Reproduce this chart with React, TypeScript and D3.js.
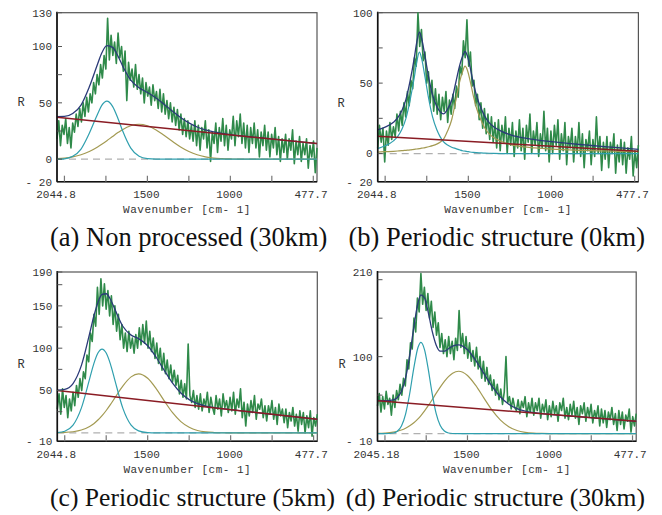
import React from "react";
import * as d3 from "d3";

// ---------------- DATA ----------------
const WN_END = 477.7;
const WN_START_A = 2044.8;
const WN_START_B = 2044.8;
const WN_START_C = 2044.8;
const WN_START_D = 2045.18;

// measured spectra (R), evenly sampled from start wavenumber to 477.7
const noisyA = [
  18, 34, 12, 30, 22, 36, 14, 28, 10, 32,
  24, 40, 29, 45, 33, 50, 38, 55, 42, 58,
  50, 68, 58, 75, 66, 84, 72, 92, 80, 125,
  88, 110, 92, 104, 85, 112, 90, 100, 78, 96,
  52, 86, 70, 80, 64, 84, 62, 75, 58, 72,
  50, 68, 56, 64, 48, 66, 52, 60, 45, 62,
  42, 58, 40, 52, 36, 50, 33, 46, 30, 44,
  26, 40, 22, 36, 20, 34, 18, 30, 16, 34,
  12, 30, 8, 28, 18, 34, 10, 26, -2, 24,
  14, 32, 6, 28, 16, 36, 12, 30, 8, 26,
  18, 38, 12, 34, 20, 40, 14, 32, 10, 30,
  6, 28, 14, 32, 10, 26, 2, 24, 12, 30,
  8, 24, 2, 22, 10, 28, 4, 20, -2, 18,
  6, 22, 0, 18, 8, 26, -4, 16, 4, 20,
  -2, 14, 4, 18, -8, 12, 2, 16, -12, 10,
];
const noisyB = [
  4, 20, 8, 18, -6, 16, 6, 22, 10, 19,
  12, 28, 16, 30, 20, 36, 26, 44, 34, 52,
  46, 68, 62, 100, 76, 88, 66, 72, 50, 58,
  36, 52, 30, 46, 28, 42, 24, 40, 30, 44,
  22, 38, 28, 42, 32, 48, 40, 62, 56, 80,
  68, 95, 62, 72, 48, 52, 34, 42, 24, 36,
  18, 32, 14, 28, 10, 26, 8, 22, 4, 24,
  2, 20, 8, 26, 0, 18, 6, 22, -2, 16,
  4, 24, 2, 18, -4, 20, 8, 28, 0, 16,
  6, 22, -2, 14, 4, 30, 2, 18, -6, 16,
  0, 20, 6, 24, -4, 14, 2, 22, -8, 12,
  4, 18, -6, 12, 0, 22, -2, 14, -10, 10,
  2, 16, -8, 10, -2, 26, 0, 12, -12, 8,
  -4, 12, -10, 8, 0, 14, -14, 6, -6, 10,
  -8, 8, -14, 4, -4, 12, -16, 2, -10, 6,
];
const noisyC = [
  28, 46, 22, 52, 30, 44, 18, 40, 26, 48,
  32, 56, 42, 64, 50, 72, 64, 92, 84, 118,
  108, 140, 126, 172, 140, 182, 150, 176, 146, 168,
  138, 162, 128, 150, 120, 140, 110, 128, 100, 118,
  96, 120, 100, 112, 94, 116, 100, 124, 104, 128,
  106, 132, 100, 120, 96, 112, 88, 106, 82, 100,
  74, 94, 70, 86, 64, 80, 60, 74, 56, 68,
  46, 62, 42, 58, 40, 105, 44, 36, 50, 30,
  44, 28, 46, 26, 40, 32, 48, 24, 42, 30,
  22, 44, 28, 40, 20, 46, 30, 38, 24, 42,
  26, 48, 22, 40, 30, 52, 18, 36, 8, 34,
  20, 38, 24, 44, 16, 34, 28, 40, 18, 32,
  14, 32, 22, 38, 16, 30, 10, 34, 20, 28,
  12, 28, 6, 24, 14, 30, 8, 22, 2, 26,
  10, 24, 0, 20, 6, 26, -4, 18, 8, 22,
];
const noisyD = [
  36, 52, 28, 48, 32, 55, 38, 46, 24, 50,
  34, 56, 44, 64, 50, 72, 62, 96, 84, 118,
  110, 150, 132, 176, 158, 208, 168, 190, 160, 182,
  150, 172, 138, 158, 128, 144, 112, 130, 104, 122,
  100, 126, 104, 120, 96, 124, 108, 160, 112, 130,
  104, 126, 98, 118, 94, 108, 88, 112, 84, 100,
  72, 94, 68, 86, 64, 76, 56, 70, 50, 64,
  44, 58, 38, 54, 100, 40, 48, 32, 46, 34,
  30, 44, 26, 42, 34, 48, 22, 40, 28, 46,
  24, 40, 30, 46, 20, 38, 28, 44, 18, 36,
  22, 42, 26, 36, 16, 40, 30, 46, 20, 34,
  18, 38, 24, 42, 20, 34, 12, 36, 26, 40,
  16, 34, 22, 38, 14, 30, 20, 36, 10, 32,
  14, 30, 8, 28, 18, 34, 12, 26, 4, 30,
  12, 28, 6, 24, 16, 32, 2, 22, 10, 26,
];

// fitted components sampled at wavenumbers
const gridA = [2044.8, 2000, 1950, 1900, 1850, 1800, 1775, 1744, 1710, 1675, 1650, 1600, 1550, 1500, 1450, 1400, 1350, 1300, 1250, 1200, 1150, 1100, 1050, 1000, 950, 900, 477.7];
const tealA = [0.04, 0.3, 2.5, 9, 23, 40.1, 47.7, 51.5, 46.9, 35.2, 25.4, 9.8, 2.5, 0.4, 0, 0, 0, 0, 0, 0, 0, 0, 0, 0, 0, 0, 0];
const oliveA = [0.5, 1.0, 2.1, 3.9, 6.8, 10.8, 13.2, 16.4, 20.1, 23.8, 26.2, 29.7, 31, 29.7, 26.2, 21.2, 15.8, 10.8, 6.8, 3.9, 2.1, 1.0, 0.5, 0.2, 0, 0, 0];
const baseA = [37.3, 13.8];

const gridB = [2044.8, 2000, 1950, 1925, 1900, 1875, 1850, 1825, 1810, 1794, 1780, 1760, 1740, 1715, 1690, 1670, 1650, 1625, 1600, 1575, 1550, 1535, 1520, 1505, 1490, 1470, 1450, 1425, 1400, 1375, 1350, 1300, 1250, 1200, 1100, 1000, 900, 800, 700, 600, 477.7];
const tealB = [3.5, 5.5, 9, 12, 17, 25, 38, 54, 65, 72, 67, 54, 40, 26, 17, 12, 8.5, 6, 4.5, 3.5, 2.5, 2, 1.7, 1.4, 1.1, 0.8, 0.6, 0.4, 0.3, 0.2, 0.1, 0, 0, 0, 0, 0, 0, 0, 0, 0, 0];
const oliveB = [1, 1.3, 1.6, 1.8, 2, 2.3, 2.6, 3, 3.2, 3.5, 3.8, 4.2, 4.8, 5.6, 6.7, 8, 10, 16, 24, 38, 52, 58, 62, 59, 52, 41, 32, 24, 18, 14, 11.5, 8.5, 6.5, 5.2, 4, 3.2, 2.6, 2.2, 1.9, 1.6, 1.3];
const baseB = [12.3, 1.7];

const gridC = [2044.8, 2000, 1950, 1900, 1850, 1825, 1800, 1775, 1750, 1725, 1700, 1650, 1600, 1555, 1500, 1450, 1400, 1350, 1300, 1250, 1200, 1150, 1100, 1050, 1000, 900, 477.7];
const tealC = [0.3, 1.9, 9.0, 29.2, 63.8, 81.5, 94.3, 99, 94.3, 81.5, 63.8, 29.2, 9.0, 2.3, 0.3, 0, 0, 0, 0, 0, 0, 0, 0, 0, 0, 0, 0];
const oliveC = [0.15, 0.45, 1.3, 3.3, 7.6, 10.8, 15.1, 20.3, 26.4, 33.3, 40.7, 55.3, 66.1, 69.6, 64.4, 52.5, 37.7, 23.8, 13.2, 6.5, 2.8, 1.1, 0.4, 0.1, 0, 0, 0];
const baseC = [50, 16];

const gridD = [2045.18, 2000, 1950, 1925, 1900, 1875, 1850, 1825, 1800, 1782, 1760, 1740, 1715, 1690, 1665, 1640, 1615, 1590, 1554, 1500, 1450, 1400, 1350, 1300, 1250, 1200, 1150, 1100, 1050, 1000, 900, 477.7];
const tealD = [0, 0.02, 0.8, 3.1, 9.9, 25.4, 52.1, 85.4, 111.9, 118.6, 108.8, 86.7, 53.3, 26.3, 10.4, 3.3, 0.8, 0.15, 0, 0, 0, 0, 0, 0, 0, 0, 0, 0, 0, 0, 0, 0];
const oliveD = [0.26, 0.7, 1.9, 3.1, 4.7, 7.0, 10.1, 14.1, 19.2, 23.5, 29.5, 35.6, 43.7, 52.2, 60.4, 67.9, 74.1, 78.5, 81, 75.6, 62.6, 46.1, 30.1, 17.5, 9.0, 4.1, 1.7, 0.6, 0.2, 0, 0, 0];
const baseD = [42.8, 16];

// axes
const yDomainA = [-20, 130];
const yDomainB = [-20, 100];
const yDomainC = [-10, 190];
const yDomainD = [-10, 210];
const yTicksA = [0, 25, 50, 75, 100, 130];
const yTicksB = [0, 25, 50, 75, 100];
const yTicksC = [25, 50, 75, 100, 125, 150, 175, 190];
const yTicksD = [50, 100, 150, 200];
const yLabelsA = [130, 100, 50, 0, -20];
const yLabelsB = [100, 50, 0, -20];
const yLabelsC = [190, 150, 100, 50, -10];
const yLabelsD = [210, 100, -10];
const xTicks = [2000, 1750, 1500, 1250, 1000, 750, 500];
const xLabelsABC = [2044.8, 1500, 1000, 477.7];
const xLabelsD = [2045.18, 1500, 1000, 477.7];

const captionA = "(a) Non processed (30km)";
const captionB = "(b) Periodic structure (0km)";
const captionC = "(c) Periodic structure (5km)";
const captionD = "(d) Periodic structure (30km)";
const xTitle = "Wavenumber [cm- 1]";
const yTitle = "R";

// ---------------- STYLE ----------------
const GREEN = "#2f8a4a";
const NAVY = "#2b3a78";
const TEAL = "#2f9fae";
const OLIVE = "#a39a52";
const BROWN = "#8a1c24";
const MONO = "Liberation Mono";
const SERIF = "Liberation Serif";

type PanelProps = {
  box: { left: number; right: number; top: number; bottom: number };
  xDomain: [number, number];
  yDomain: number[];
  yTicks: number[];
  yLabels: number[];
  xLabels: number[];
  noisy: number[];
  grid: number[];
  teal: number[];
  olive: number[];
  base: number[];
  rPos: [number, number];
};

function fmtY(v: number) {
  return v < 0 ? `- ${Math.abs(v)}` : String(v);
}

function Panel(p: PanelProps) {
  const { box } = p;
  const x = d3.scaleLinear().domain(p.xDomain).range([box.left, box.right]);
  const y = d3.scaleLinear().domain(p.yDomain).range([box.bottom, box.top]);
  const n = p.noisy.length;
  const wnAt = (i: number) => p.xDomain[0] + ((p.xDomain[1] - p.xDomain[0]) * i) / (n - 1);
  const noisyPts: [number, number][] = p.noisy.map((v, i) => [wnAt(i), v]);
  const baseAt = (w: number) =>
    p.base[0] + ((p.base[1] - p.base[0]) * (w - p.xDomain[0])) / (p.xDomain[1] - p.xDomain[0]);
  const tealPts: [number, number][] = p.grid.map((w, i) => [w, p.teal[i]]);
  const olivePts: [number, number][] = p.grid.map((w, i) => [w, p.olive[i]]);
  const fitPts: [number, number][] = p.grid.map((w, i) => [w, baseAt(w) + p.teal[i] + p.olive[i]]);
  const basePts: [number, number][] = [
    [p.xDomain[0], p.base[0]],
    [p.xDomain[1], p.base[1]],
  ];
  const raw = d3.line<[number, number]>().x((d) => x(d[0])).y((d) => y(d[1]));
  const smooth = d3
    .line<[number, number]>()
    .x((d) => x(d[0]))
    .y((d) => y(d[1]))
    .curve(d3.curveMonotoneX);
  const midX = (box.left + box.right) / 2;
  const nL = p.xLabels.length;
  return (
    <g>
      <rect x={box.left} y={box.top} width={box.right - box.left} height={box.bottom - box.top} fill="#fff" stroke="#555" strokeWidth={1.2} />
      <line x1={box.left} x2={box.right} y1={y(0)} y2={y(0)} stroke="#b0b0b0" strokeWidth={1.3} strokeDasharray="7,5" />
      <path d={raw(noisyPts) || ""} fill="none" stroke={GREEN} strokeWidth={1.6} strokeLinejoin="round" />
      <path d={smooth(olivePts) || ""} fill="none" stroke={OLIVE} strokeWidth={1.2} />
      <path d={smooth(tealPts) || ""} fill="none" stroke={TEAL} strokeWidth={1.2} />
      <path d={smooth(fitPts) || ""} fill="none" stroke={NAVY} strokeWidth={1.3} />
      <path d={raw(basePts) || ""} fill="none" stroke={BROWN} strokeWidth={1.5} />
      <line x1={box.left} x2={box.left} y1={box.top - 1} y2={box.bottom} stroke="#111" strokeWidth={1.6} />
      <line x1={box.left} x2={box.right} y1={box.bottom} y2={box.bottom} stroke="#111" strokeWidth={1.6} />
      {p.yTicks.map((t) => (
        <line key={"yt" + t} x1={box.left} x2={box.left + 5} y1={y(t)} y2={y(t)} stroke="#555" strokeWidth={1} />
      ))}
      {xTicks.map((t) => (
        <line key={"xt" + t} x1={x(t)} x2={x(t)} y1={box.bottom} y2={box.bottom - 6} stroke="#777" strokeWidth={1.2} />
      ))}
      {p.yLabels.map((v) => (
        <text key={"yl" + v} x={box.left - 5} y={y(v)} dy="0.36em" textAnchor="end" fontFamily={MONO} fontSize={11} fill="#333">
          {fmtY(v)}
        </text>
      ))}
      {p.xLabels.map((v, i) => (
        <text
          key={"xl" + v}
          x={x(v) + (i === nL - 1 ? -6 : -1)}
          y={box.bottom + 16.5}
          textAnchor="middle"
          fontFamily={MONO}
          fontSize={11}
          fill="#333"
        >
          {String(v)}
        </text>
      ))}
      <text x={midX} y={box.bottom + 31.5} textAnchor="middle" fontFamily={MONO} fontSize={11} letterSpacing={0.5} fill="#333">
        {xTitle}
      </text>
      <text x={p.rPos[0]} y={p.rPos[1]} dy="0.36em" textAnchor="middle" fontFamily={MONO} fontSize={12} fill="#333">
        {yTitle}
      </text>
    </g>
  );
}

export default function App() {
  return (
    <svg
      width={662}
      height={515}
      viewBox="0 0 662 515"
      style={{ position: "absolute", left: 0, top: 0, background: "#fff" }}
    >
      <rect x={0} y={0} width={662} height={515} fill="#fff" />
      <Panel
        box={{ left: 57, right: 317, top: 12.7, bottom: 181.7 }}
        xDomain={[WN_START_A, WN_END]}
        yDomain={yDomainA}
        yTicks={yTicksA}
        yLabels={yLabelsA}
        xLabels={xLabelsABC}
        noisy={noisyA}
        grid={gridA}
        teal={tealA}
        olive={oliveA}
        base={baseA}
        rPos={[21, 102]}
      />
      <Panel
        box={{ left: 377.7, right: 638.4, top: 12.7, bottom: 181.7 }}
        xDomain={[WN_START_B, WN_END]}
        yDomain={yDomainB}
        yTicks={yTicksB}
        yLabels={yLabelsB}
        xLabels={xLabelsABC}
        noisy={noisyB}
        grid={gridB}
        teal={tealB}
        olive={oliveB}
        base={baseB}
        rPos={[341, 103]}
      />
      <Panel
        box={{ left: 57.3, right: 317.3, top: 272, bottom: 441.3 }}
        xDomain={[WN_START_C, WN_END]}
        yDomain={yDomainC}
        yTicks={yTicksC}
        yLabels={yLabelsC}
        xLabels={xLabelsABC}
        noisy={noisyC}
        grid={gridC}
        teal={tealC}
        olive={oliveC}
        base={baseC}
        rPos={[21, 364]}
      />
      <Panel
        box={{ left: 377.5, right: 636.2, top: 272, bottom: 441.3 }}
        xDomain={[WN_START_D, WN_END]}
        yDomain={yDomainD}
        yTicks={yTicksD}
        yLabels={yLabelsD}
        xLabels={xLabelsD}
        noisy={noisyD}
        grid={gridD}
        teal={tealD}
        olive={oliveD}
        base={baseD}
        rPos={[342, 364]}
      />
      <text x={50} y={246} fontFamily={SERIF} fontSize={26.5} fill="#111">{captionA}</text>
      <text x={645} y={246} textAnchor="end" fontFamily={SERIF} fontSize={26.5} fill="#111">{captionB}</text>
      <text x={50} y={506} fontFamily={SERIF} fontSize={25.6} fill="#111">{captionC}</text>
      <text x={645} y={506} textAnchor="end" fontFamily={SERIF} fontSize={25.6} fill="#111">{captionD}</text>
    </svg>
  );
}
